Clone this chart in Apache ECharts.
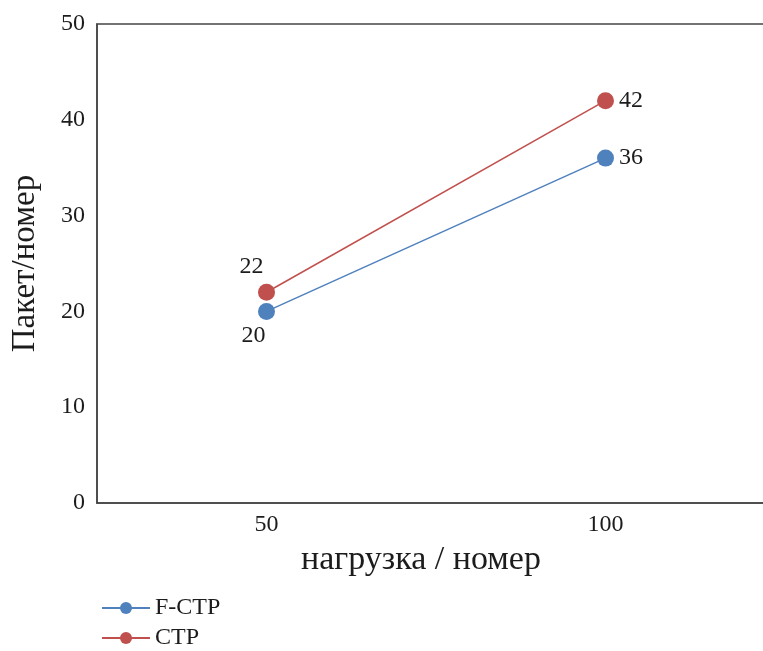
<!DOCTYPE html>
<html><head><meta charset="utf-8">
<script src="https://cdn.jsdelivr.net/npm/echarts@6/dist/echarts.min.js"></script>
<style>html,body{margin:0;padding:0;background:#fff}#c{width:763px;height:651px}</style>
</head><body><div id="c"></div>
<script>
const categories = ['50', '100'];
const fctp = [20, 36];
const ctp = [22, 42];
const yTicks = [0, 10, 20, 30, 40, 50];
const seriesNames = ['F-CTP', 'CTP'];

const font = '"Liberation Serif","DejaVu Serif",serif';
const blue = '#4f81bd';
const red = '#c0504d';
const ink = '#1c1c1c';
const chart = echarts.init(document.getElementById('c'));
const legendStyle = (name, top) => ({
  orient: 'vertical', left: 96, top: top, itemWidth: 48, itemHeight: 15, itemGap: 0,
  textStyle: { fontFamily: font, fontSize: 24, color: ink },
  data: [name]
});
chart.setOption({
  animation: false,
  backgroundColor: '#fff',
  grid: { left: 97, top: 24, width: 678, height: 479, outerBoundsMode: 'none', containLabel: false,
          show: true, borderColor: '#444', borderWidth: 1.5 },
  legend: [legendStyle(seriesNames[0], 591), legendStyle(seriesNames[1], 621)],
  xAxis: {
    type: 'category', data: categories, boundaryGap: true,
    name: 'нагрузка / номер', nameLocation: 'middle', nameGap: 40,
    nameTextStyle: { fontFamily: font, fontSize: 34, color: ink, padding: [0, 30, 0, 0] },
    axisLine: { lineStyle: { color: '#444', width: 1.5 } },
    axisTick: { show: false },
    axisLabel: { fontFamily: font, fontSize: 24, color: ink, margin: 10 }
  },
  yAxis: {
    type: 'value', min: yTicks[0], max: yTicks[yTicks.length - 1], interval: 10,
    name: 'Пакет/номер', nameLocation: 'middle', nameGap: 55, nameRotate: 90,
    nameTextStyle: { fontFamily: font, fontSize: 33, color: ink },
    axisLine: { show: true, lineStyle: { color: '#444', width: 1.5 } },
    axisTick: { show: false },
    splitLine: { show: false },
    axisLabel: { fontFamily: font, fontSize: 24, color: ink, margin: 12 }
  },
  series: [
    {
      name: seriesNames[0], type: 'line', symbol: 'circle', symbolSize: 17,
      data: [{ value: fctp[0], label: { position: 'bottom', offset: [-13, -1] } }, fctp[1]],
      itemStyle: { color: blue }, lineStyle: { color: blue, width: 1.5 },
      label: { show: true, fontFamily: font, fontSize: 24, color: ink, position: 'right', distance: 5 },
      emphasis: { disabled: true }
    },
    {
      name: seriesNames[1], type: 'line', symbol: 'circle', symbolSize: 17,
      data: [{ value: ctp[0], label: { position: 'top', offset: [-15, 0] } }, ctp[1]],
      itemStyle: { color: red }, lineStyle: { color: red, width: 1.5 },
      label: { show: true, fontFamily: font, fontSize: 24, color: ink, position: 'right', distance: 5 },
      emphasis: { disabled: true }
    }
  ]
});
</script></body></html>
